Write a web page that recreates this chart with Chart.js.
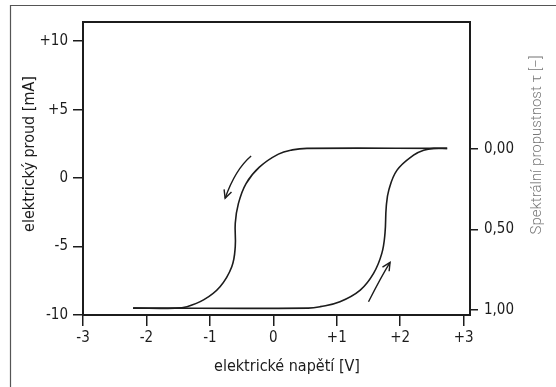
<!DOCTYPE html>
<html>
<head>
<meta charset="utf-8">
<script src="https://cdn.jsdelivr.net/npm/chart.js@4"></script>
<style>
  html, body { margin: 0; padding: 0; background: #fff; }
  #wrap { width: 556px; height: 387px; }
</style>
</head>
<body>
<div id="wrap"><canvas id="myChart" width="556" height="387"></canvas></div>
<script>
// values
const xTicks = [-3, -2, -1, 0, 1, 2, 3];
const yTicks = [-10, -5, 0, 5, 10];
const tauTicks = [0, 0.5, 1];

// rising branch (bottom line + right curve), V / mA
const risingX = [-2.21, 0.55, 0.74, 1.05, 1.37, 1.58, 1.71, 1.76, 1.78, 1.82, 1.95, 2.21, 2.37, 2.53, 2.74];
const risingY = [-9.5, -9.5, -9.39, -9.03, -8.18, -6.96, -5.5, -4.04, -2.09, -0.88, 0.58, 1.68, 2.04, 2.17, 2.17];

// falling branch (top line + left curve)
const fallingX = [2.74, 0.53, 0.30, 0.08, -0.22, -0.43, -0.55, -0.60, -0.60, -0.655, -0.84, -1.10, -1.36, -1.55, -2.21];
const fallingY = [2.17, 2.17, 2.06, 1.75, 0.80, -0.40, -1.85, -3.3, -5.0, -6.47, -7.93, -8.9, -9.39, -9.5, -9.5];

// direction arrows: start, bend, end (V / mA)
const arrowFrom = [[-0.35, 1.61], [1.50, -9.03]];
const arrowBend = [[-0.60, 0.63], [1.70, -7.2]];
const arrowTo = [[-0.76, -1.48], [1.84, -6.15]];

const ctx = document.getElementById('myChart');
const tickFont = "'Liberation Sans Narrow', 'DejaVu Sans Condensed', 'Roboto Condensed', sans-serif";
const ink = '#1c1c1c';

function toPoints(xs, ys) {
    let pts = [];
    for (let i = 0; i < xs.length; i++) {
        pts.push({ x: xs[i], y: ys[i] });
    }
    return pts;
}

function signed(v) {
    return v > 0 ? '+' + v : '' + v;
}

const extras = {
    id: 'extras',
    beforeDraw(chart) {
        const c = chart.ctx;
        c.save();
        c.strokeStyle = '#555';
        c.lineWidth = 1.2;
        c.beginPath();
        c.moveTo(10.5, 387);
        c.lineTo(10.5, 5.5);
        c.lineTo(556, 5.5);
        c.stroke();
        c.restore();
    },
    afterDatasetsDraw(chart) {
        const c = chart.ctx;
        const xs = chart.scales.x, ys = chart.scales.y;
        const a = chart.chartArea;
        c.save();
        // frame
        c.strokeStyle = ink;
        c.lineWidth = 2;
        c.strokeRect(a.left, a.top, a.right - a.left, a.bottom - a.top);
        // arrows
        c.lineWidth = 1.4;
        for (let i = 0; i < arrowFrom.length; i++) {
            const p0 = [xs.getPixelForValue(arrowFrom[i][0]), ys.getPixelForValue(arrowFrom[i][1])];
            const p1 = [xs.getPixelForValue(arrowBend[i][0]), ys.getPixelForValue(arrowBend[i][1])];
            const p2 = [xs.getPixelForValue(arrowTo[i][0]), ys.getPixelForValue(arrowTo[i][1])];
            c.beginPath();
            c.moveTo(p0[0], p0[1]);
            c.quadraticCurveTo(p1[0], p1[1], p2[0], p2[1]);
            c.stroke();
            const ang = Math.atan2(p2[1] - p1[1], p2[0] - p1[0]);
            const L = 9, w = 0.45;
            c.beginPath();
            c.moveTo(p2[0] - L * Math.cos(ang - w), p2[1] - L * Math.sin(ang - w));
            c.lineTo(p2[0], p2[1]);
            c.lineTo(p2[0] - L * Math.cos(ang + w), p2[1] - L * Math.sin(ang + w));
            c.stroke();
        }
        c.restore();
    },
    afterDraw(chart) {
        const c = chart.ctx;
        c.save();
        c.fillStyle = ink;
        c.textAlign = 'center';
        c.textBaseline = 'middle';
        c.font = '16px ' + tickFont;
        c.fillText('elektrické napětí [V]', 287, 367);
        c.save();
        c.translate(30, 154);
        c.rotate(-Math.PI / 2);
        c.fillText('elektrický proud [mA]', 0, 0);
        c.restore();
        c.fillStyle = '#777';
        c.font = '300 15px Roboto, sans-serif';
        c.translate(537, 145);
        c.rotate(-Math.PI / 2);
        c.fillText('Spektrální propustnost τ [−]', 0, 0);
        c.restore();
    }
};

new Chart(ctx, {
    type: 'scatter',
    data: {
        datasets: [
            {
                data: toPoints(risingX, risingY),
                showLine: true,
                tension: 0.4,
                borderColor: ink,
                borderWidth: 1.6,
                pointRadius: 0
            },
            {
                data: toPoints(fallingX, fallingY),
                showLine: true,
                tension: 0.4,
                borderColor: ink,
                borderWidth: 1.6,
                pointRadius: 0
            }
        ]
    },
    options: {
        responsive: false,
        animation: false,
        layout: {
            padding: { left: 20, top: 22, right: 0, bottom: 0 }
        },
        plugins: {
            legend: { display: false },
            tooltip: { enabled: false }
        },
        scales: {
            x: {
                type: 'linear',
                min: -3,
                max: 3.1,
                afterBuildTicks: (s) => { s.ticks = xTicks.map(v => ({ value: v })); },
                afterFit: (s) => { s.height = 72; },
                grid: {
                    drawOnChartArea: false,
                    tickLength: 11,
                    color: ink,
                    lineWidth: 1.5
                },
                border: { display: false },
                ticks: {
                    color: ink,
                    padding: 3,
                    maxRotation: 0,
                    font: { family: tickFont, size: 15 },
                    callback: (v) => signed(v)
                }
            },
            y: {
                type: 'linear',
                position: 'left',
                min: -10,
                max: 11.4,
                afterBuildTicks: (s) => { s.ticks = yTicks.map(v => ({ value: v })); },
                afterFit: (s) => { s.width = 63; },
                grid: {
                    drawOnChartArea: false,
                    tickLength: 10,
                    color: ink,
                    lineWidth: 1.5
                },
                border: { display: false },
                ticks: {
                    color: ink,
                    padding: 5,
                    font: { family: tickFont, size: 15 },
                    callback: (v) => signed(v)
                }
            },
            y2: {
                type: 'linear',
                position: 'right',
                reverse: true,
                min: -0.789,
                max: 1.031,
                afterBuildTicks: (s) => { s.ticks = tauTicks.map(v => ({ value: v })); },
                afterFit: (s) => { s.width = 86; },
                grid: {
                    drawOnChartArea: false,
                    tickLength: 8,
                    color: ink,
                    lineWidth: 1.5
                },
                border: { display: false },
                ticks: {
                    color: ink,
                    padding: 6,
                    font: { family: tickFont, size: 15 },
                    callback: (v) => v.toFixed(2).replace('.', ',')
                }
            }
        }
    },
    plugins: [extras]
});
</script>
</body>
</html>
